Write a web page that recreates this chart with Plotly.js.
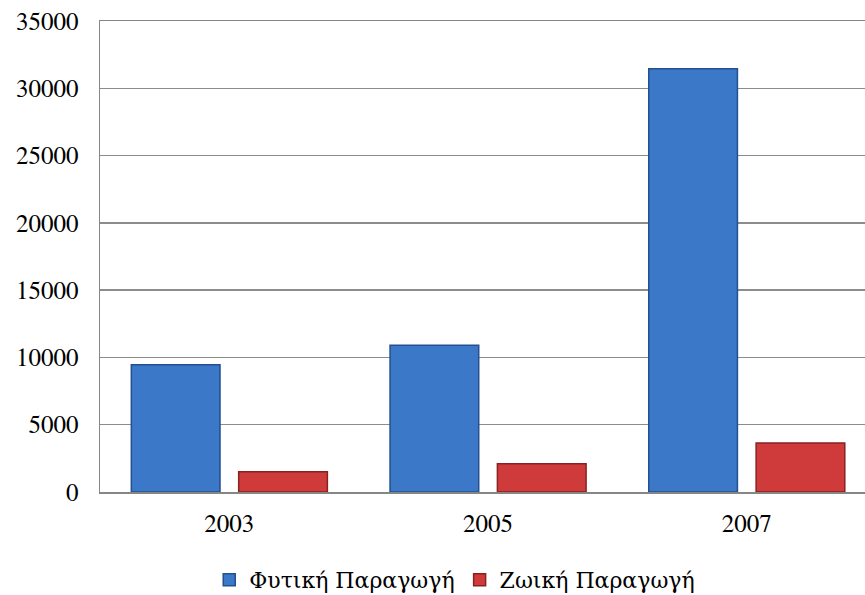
<!DOCTYPE html>
<html>
<head>
<meta charset="utf-8">
<script src="https://cdn.plot.ly/plotly-3.0.1.min.js"></script>
<style>html,body{margin:0;padding:0;overflow:hidden;background:#fff}</style>
</head>
<body>
<div id="chart" style="width:865px;height:595px"></div>
<script>
const years = ['2003', '2005', '2007'];
const plantProduction = [9450, 10900, 31450];
const animalProduction = [1500, 2100, 3650];
const seriesNames = ['Φυτική Παραγωγή', 'Ζωική Παραγωγή'];
const yTicks = [0, 5000, 10000, 15000, 20000, 25000, 30000, 35000];

const fam = 'FreeSerif, Noto Serif, Liberation Serif, DejaVu Serif';
const font = {family: fam, size: 25, color: '#000'};
const legendFont = {family: 'DejaVu Serif', size: 22, color: '#000'};

const traces = [
  {type: 'bar', x: years, y: plantProduction, name: seriesNames[0],
   marker: {color: '#3b78c8', line: {color: '#24508f', width: 1.5}}},
  {type: 'bar', x: years, y: animalProduction, name: seriesNames[1],
   marker: {color: '#cf3b3b', line: {color: '#8a2121', width: 1.5}}}
];

const layout = {
  width: 865, height: 595,
  margin: {l: 100, r: 0, t: 21, b: 102.5},
  paper_bgcolor: '#fff', plot_bgcolor: '#fff',
  font: font,
  barmode: 'group', bargap: 0.17, bargroupgap: 0.174,
  showlegend: true,
  legend: {orientation: 'h', xref: 'container', yref: 'container',
           x: 0.5257, xanchor: 'center', y: 0.0252, yanchor: 'middle',
           font: legendFont, itemwidth: 30},
  xaxis: {type: 'category', range: [-0.5, 2.457], showgrid: false, automargin: false,
          showline: true, linecolor: '#868686', linewidth: 1.5, mirror: true,
          ticks: '', tickfont: font, ticklabelstandoff: 8},
  yaxis: {range: [0, 35000], tickvals: yTicks, ticktext: yTicks.map(String), automargin: false,
          showgrid: true, gridcolor: '#8c8c8c', gridwidth: 1.3,
          showline: true, linecolor: '#868686', linewidth: 1.5,
          zeroline: false, ticks: '', tickfont: font, ticklabelstandoff: 15}
};

Plotly.newPlot('chart', traces, layout, {displayModeBar: false, staticPlot: true});
</script>
</body>
</html>
